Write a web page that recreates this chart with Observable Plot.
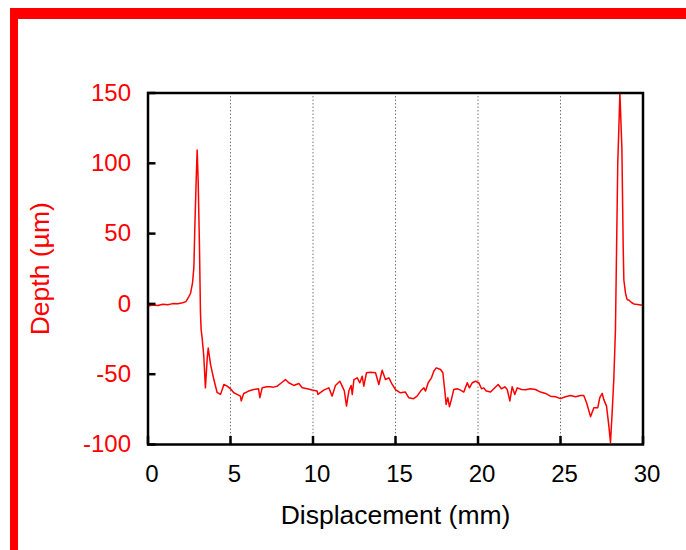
<!DOCTYPE html>
<html>
<head>
<meta charset="utf-8">
<script src="https://cdn.jsdelivr.net/npm/d3@7"></script>
<script src="https://cdn.jsdelivr.net/npm/@observablehq/plot@0.6"></script>
<style>
  html, body { margin: 0; padding: 0; background: #fff; }
  #wrap { position: relative; width: 686px; height: 550px; overflow: hidden; }
  #deco { position: absolute; left: 10px; top: 8px; right: 0; bottom: 0;
          border-top: 11px solid #ff0000; border-left: 8px solid #ff0000; }
  #chart { position: absolute; left: 0; top: 0; }
</style>
</head>
<body>
<div id="wrap"><div id="deco"></div><div id="chart"></div></div>
<script>
const xTitle = "Displacement (mm)";
const yTitle = "Depth (µm)";
const xTicks = [0, 5, 10, 15, 20, 25, 30];
const yTicks = [-100, -50, 0, 50, 100, 150];
const gridX = [5, 10, 15, 20, 25];

const displacement = [
  0, 0.3, 0.6, 0.9, 1.2, 1.5, 1.8, 2.1, 2.3, 2.47, 2.58, 2.7, 2.78, 2.84, 2.92, 2.98,
  3.04, 3.12, 3.18, 3.22, 3.28, 3.38, 3.48, 3.59, 3.65, 3.79, 3.99, 4.19, 4.39, 4.5,
  4.6, 4.8, 5.0, 5.2, 5.4, 5.6, 5.65, 5.8, 6.1, 6.4, 6.7, 6.78, 6.92, 7.2, 7.42, 7.6,
  7.83, 8.13, 8.33, 8.53, 8.84, 9.14, 9.35, 9.65, 9.95, 10.25, 10.3, 10.65, 10.96,
  11.16, 11.36, 11.63, 11.77, 11.9, 12.03, 12.17, 12.31, 12.38, 12.48, 12.68, 12.84,
  12.98, 13.08, 13.24, 13.48, 13.79, 13.99, 14.19, 14.39, 14.6, 14.8, 15.0, 15.3,
  15.6, 15.8, 16.1, 16.31, 16.52, 16.72, 16.82, 16.98, 17.18, 17.32, 17.47, 17.73,
  17.87, 17.99, 18.07, 18.17, 18.27, 18.39, 18.53, 18.74, 18.94, 19.14, 19.35, 19.48,
  19.65, 19.85, 20.05, 20.21, 20.35, 20.5, 20.76, 21.02, 21.22, 21.42, 21.63, 21.77,
  21.93, 22.07, 22.23, 22.38, 22.64, 22.88, 23.18, 23.48, 23.79, 24.09, 24.39, 24.7,
  25.0, 25.3, 25.6, 25.91, 26.21, 26.41, 26.58, 26.82, 27.02, 27.26, 27.38, 27.53,
  27.62, 27.79, 27.93, 28.03, 28.13, 28.23, 28.33, 28.4, 28.47, 28.6, 28.72, 28.8,
  28.84, 28.94, 29.04, 29.14, 29.3, 29.44, 29.6, 29.85, 30
];
const depth = [
  -1.5, -0.8, -1.2, -0.3, -0.6, 0.2, 0.1, 0.8, 1.6, 5, 7.6, 15, 26, 55, 88, 109.5,
  88, 40.5, -6.5, -18.4, -24, -37, -59.7, -38.4, -31.4, -43, -53.8, -63, -64.4, -60.9,
  -57.3, -58.5, -60.4, -63.2, -64.4, -65.6, -69, -63.7, -62, -60.9, -60.4, -66.7, -59.7, -59, -59, -59.2,
  -58.5, -55.7, -53.8, -56.1, -58, -56.6, -59.7, -60.4, -61.3, -62, -64.4, -61.3, -59.7,
  -65.6, -58, -55, -58.5, -62, -72.7, -62, -58, -64.4, -53.8, -52.6, -56.1,
  -51.4, -58.5, -49, -48.6, -49, -57.3, -47.2, -53.8, -52.6, -57.3, -60.9, -63.2,
  -62.7, -66.7, -67.4, -65.6, -62, -59.7, -62, -56.1, -52.6, -47.9, -45.5, -46.7,
  -49, -62, -71.5, -66.7, -73.1, -67.9, -60.9, -60.4, -61.3, -62.7, -56.1, -59.7,
  -56.1, -55, -56.1, -60.4, -59.7, -62, -62.7, -59.7, -57.3, -60.4, -59, -60.9,
  -69, -59, -64.4, -59.7, -60.9, -61, -60.4, -60.9, -62.7, -63.7, -65.6, -66,
  -67.4, -66, -65.1, -66, -65.1, -65.1, -70.3, -80.2, -73.8, -73.8, -66.7, -63.7,
  -67.9, -72.7, -86.8, -98.6, -77.3, -53.8, -18.4, 40.5, 99.5, 150, 111, 40.5,
  17, 7.6, 3, 2.8, 1, 0, -0.3, -0.7, -1
];

const profile = displacement.map((x, i) => ({x, y: depth[i]}));

const W = 686, H = 550;
const mL = 147.5, mR = 43.5, mT = 92.5, mB = 106;
const tickLen = 8;
const kx = (W - mL - mR) / (xTicks[xTicks.length - 1] - xTicks[0]);
const ky = (H - mT - mB) / (yTicks[yTicks.length - 1] - yTicks[0]);
const yMin = yTicks[0], xMin = xTicks[0];
const fmt = d => String(d);

const chart = Plot.plot({
  width: W, height: H,
  marginLeft: mL, marginRight: mR, marginTop: mT, marginBottom: mB,
  style: {fontFamily: "Arial, 'Liberation Sans', sans-serif", background: "transparent", overflow: "visible"},
  x: {domain: [xTicks[0], xTicks[xTicks.length - 1]]},
  y: {domain: [yTicks[0], yTicks[yTicks.length - 1]]},
  marks: [
    Plot.ruleX(gridX, {stroke: "#777", strokeWidth: 1, strokeDasharray: "1.5,2"}),
    Plot.line(profile, {x: "x", y: "y", stroke: "#ff0000", strokeWidth: 1.5}),
    Plot.ruleX(xTicks, {y1: yMin, y2: yMin + tickLen / ky, stroke: "#000", strokeWidth: 2.5}),
    Plot.ruleY(yTicks, {x1: xMin, x2: xMin + tickLen / kx, stroke: "#000", strokeWidth: 2.5}),
    Plot.frame({stroke: "#000", strokeWidth: 2.5}),
    Plot.axisX(xTicks, {tickSize: 0, tickPadding: 20, dx: 4, fontSize: 24, color: "#000", label: null, tickFormat: fmt}),
    Plot.axisY(yTicks, {tickSize: 0, tickPadding: 17, fontSize: 24, color: "#ff0000", label: null, tickFormat: fmt}),
    Plot.text([xTitle], {frameAnchor: "bottom", dy: 71, text: d => d, fontSize: 26.5, fill: "#000", textAnchor: "middle", lineAnchor: "middle"}),
    Plot.text([yTitle], {frameAnchor: "left", dx: -107.5, rotate: -90, text: d => d, fontSize: 26.5, fill: "#ff0000", textAnchor: "middle", lineAnchor: "middle"})
  ]
});
document.getElementById("chart").appendChild(chart);
</script>
</body>
</html>
